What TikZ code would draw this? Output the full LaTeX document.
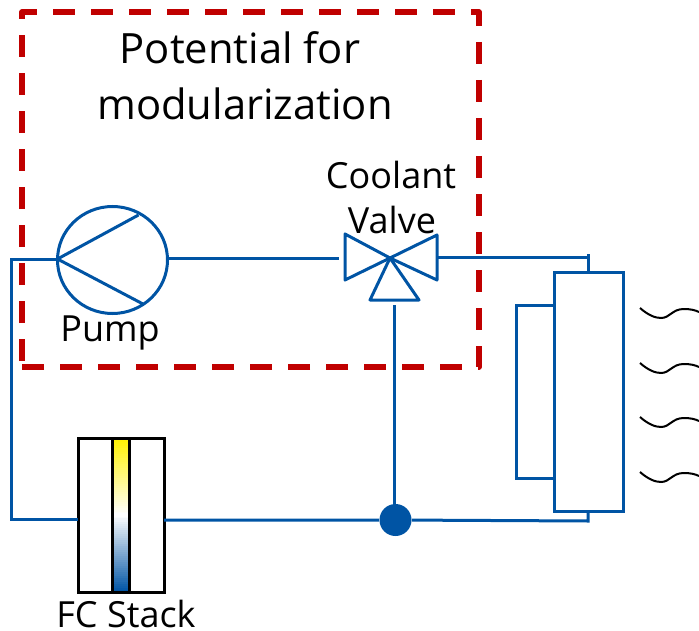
\documentclass[tikz,border=0pt]{standalone}
\usepackage{fontspec}
\setmainfont{Open Sans}
\usetikzlibrary{calc}
\definecolor{pipeblue}{RGB}{0,84,164}
\definecolor{dashred}{RGB}{192,0,0}
\tikzset{
  pipe/.style={draw=pipeblue,line width=2.25pt},
  modbox/.style={draw=dashred,line width=4pt,line join=round,dash pattern=on 16.5pt off 12pt},
  blackbox/.style={draw=black,line width=2.25pt,inner sep=0pt},
  heatwave/.style={draw=black,line width=1.5pt},
  biglabel/.style={font=\fontsize{31.3pt}{33pt}\selectfont,text=black,inner sep=0pt},
  smalllabel/.style={font=\fontsize{27pt}{30pt}\selectfont,text=black,inner sep=0pt},
}
\begin{document}
\begin{tikzpicture}[x=0.75pt,y=-0.75pt]
\useasboundingbox (0,0) rectangle (699,631);
% modularization boundary
\draw[modbox] (22,361) -- (22,12) -- (479,12) -- (479,367) -- (22,367);
\node[biglabel] (t1) at (240,48) {Potential for};
\node[biglabel] (t2) at (245,104) {modularization};
\node[smalllabel] (t3) at (391,175) {Coolant};
\node[smalllabel] (t4) at (392,220) {Valve};
\node[smalllabel] (t5) at (110,333) {Pump};
\node[smalllabel] (t6) at (126,614) {FC Stack};
% pump
\coordinate (pc) at (112.5,260);
\draw[pipe] (pc) ellipse [x radius=55,y radius=53.5];
\coordinate (pa) at (57.5,259);
\coordinate (pb) at (168,258);
\draw[pipe] (138.5,215) -- (pa) -- (143,304);
% valve
\coordinate (vc) at (390,258);
\draw[pipe,line join=round] (vc) -- (345,234) -- (345,280) -- cycle;
\draw[pipe,line join=round] (vc) -- (437,235) -- (437,280) -- cycle;
\draw[pipe,line join=round] (vc) -- (370,300) -- (419,300) -- cycle;
\coordinate (vl) at (339,258);
\coordinate (vr) at (438,257);
\coordinate (vb) at (394,305);
% radiator
\coordinate (rt) at (588,272);
\coordinate (rb) at (588,511);
\draw[pipe] (554,272) rectangle (623,511);
\draw[pipe] (554,305) -- (516,305) -- (516,478) -- (554,478);
% FC stack: yellow-white-blue gradient drawn in strips
\foreach \i in {0,...,38} {
  \pgfmathtruncatemacro{\p}{100-\i*100/38}
  \fill[yellow!\p!white] (112.5,438+2*\i) rectangle (129.5,441+2*\i);
  \fill[pipeblue!\p!white] (112.5,592-2*\i) rectangle (129.5,589-2*\i);
}
\draw[blackbox] (78,438) rectangle (164,592);
\draw[blackbox] (112.5,438) -- (112.5,592) (129.5,438) -- (129.5,592);
\coordinate (sl) at (78,519);
\coordinate (sr) at (164,520);
% junction
\node[circle,fill=pipeblue,draw=none,minimum size=24pt,inner sep=0pt] (j) at (395.5,520) {};
% pipes
\draw[pipe] (vb) -- (vb |- j);
\draw[pipe] (pb) -- (vl);
\draw[pipe] (vr) -- (587,257);
\draw[pipe] (588,254) -- (rt);
\draw[pipe] (sr) -- (j) -- (588,521) -- (rb);
\draw[pipe] (pa) -- (11.5,259) -- (11.5,519) -- (sl);
% heat waves
\foreach \y in {308,363,417,472}
  \draw[heatwave] (640,\y) .. controls (648,\y+7) and (655,\y+10) .. (661,\y+10)
     .. controls (670,\y+10) and (672,\y+1) .. (684,\y+1)
     .. controls (690,\y+1) and (695,\y+2) .. (699,\y+4);
\end{tikzpicture}
\end{document}
